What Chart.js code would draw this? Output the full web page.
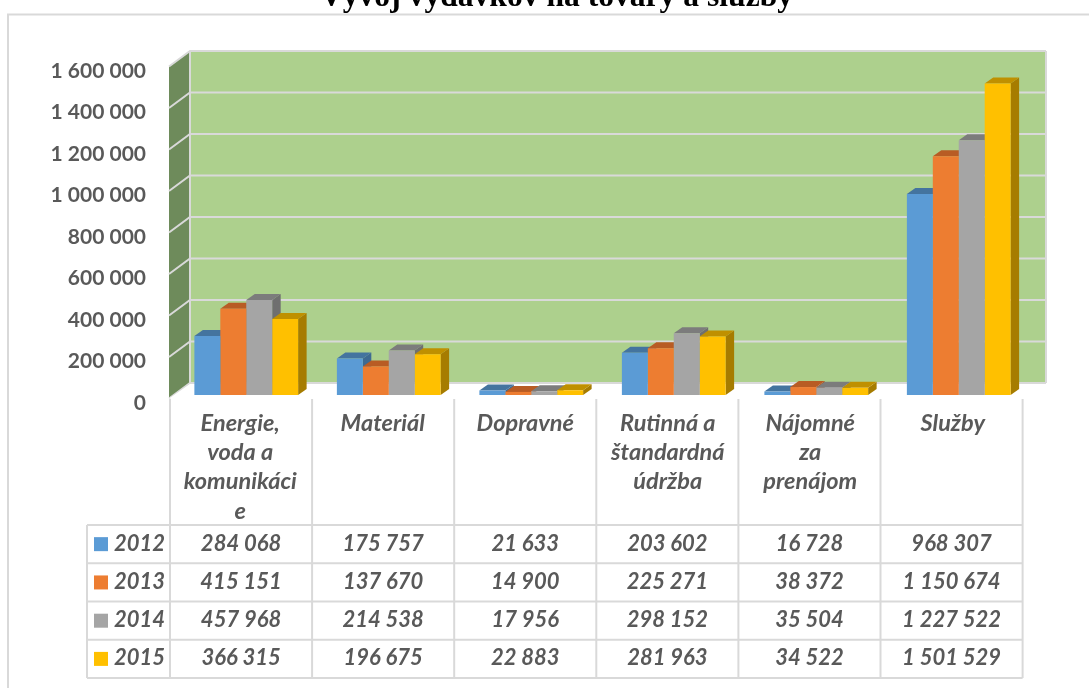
<!DOCTYPE html>
<html lang="sk">
<head>
<meta charset="utf-8">
<title>Vývoj výdavkov na tovary a služby</title>
<style>
html,body{margin:0;padding:0;background:#fff;}
canvas{display:block;filter:blur(0.5px);}
</style>
<script src="https://cdn.jsdelivr.net/npm/chart.js@4"></script>
</head>
<body>
<canvas id="c" width="1089" height="688"></canvas>
<script>
const titleText = 'Vývoj výdavkov na tovary a služby';
const categories = [['Energie,','voda a','komunikáci','e'],['Materiál'],['Dopravné'],['Rutinná a','štandardná','údržba'],['Nájomné','za','prenájom'],['Služby']];
const years = ['2012','2013','2014','2015'];
const values2012 = [284068,175757,21633,203602,16728,968307];
const values2013 = [415151,137670,14900,225271,38372,1150674];
const values2014 = [457968,214538,17956,298152,35504,1227522];
const values2015 = [366315,196675,22883,281963,34522,1501529];
const seriesValues = [values2012,values2013,values2014,values2015];
const fronts = ['#5B9BD5','#ED7D31','#A5A5A5','#FFC000'];
const tops = ['#44749F','#B85C24','#7C7C7C','#BF9000'];
const sides = ['#3E6A92','#A65420','#6F6F6F','#A67C00'];

const fmt = v => String(v).replace(/\B(?=(\d{3})+(?!\d))/g,' ');
const GRID = '#D9D9D9', TEXT = '#595959';
const tickFont = {family:'Lato', size:21, weight:'bold'};
const tableFont = 'italic bold 22px Lato';

const poly = (ctx, pts, fill) => {
  ctx.beginPath();
  pts.forEach((p,i)=> i ? ctx.lineTo(p[0],p[1]) : ctx.moveTo(p[0],p[1]));
  ctx.closePath();
  ctx.fillStyle = fill;
  ctx.fill();
};

const decor = {
  id:'decor',
  afterLayout(chart){
    // the tick labels may extend left of the padded box (labels are clipped to the scale box)
    chart.scales.y.left = 0;
  },
  beforeDatasetsDraw(chart){
    const ctx = chart.ctx, y = chart.scales.y;
    const xF = 169, xB = 190, xR = 1046;
    const front = v => y.getPixelForValue(v) + 3.5;
    const back = v => y.getPixelForValue(v) - 12;
    ctx.save();
    // chart frame hides the lower part of the title
    ctx.fillStyle = '#FFFFFF';
    ctx.fillRect(0,13.5,1089,30);
    ctx.strokeStyle = GRID; ctx.lineWidth = 2;
    ctx.beginPath(); ctx.moveTo(8,688); ctx.lineTo(8,14.5); ctx.lineTo(1089,14.5); ctx.stroke();
    // back wall and side wall
    ctx.fillStyle = '#ADD08D';
    ctx.fillRect(xB, back(1600000), xR-xB, back(0)-back(1600000));
    poly(ctx, [[xF,front(0)],[xF,front(1600000)],[xB,back(1600000)],[xB,back(0)]], '#6E8B5B');
    ctx.strokeStyle = GRID; ctx.lineWidth = 2;
    ctx.beginPath();
    y.ticks.forEach(t=>{
      ctx.moveTo(xF,front(t.value)); ctx.lineTo(xB,back(t.value)); ctx.lineTo(xR,back(t.value));
    });
    ctx.moveTo(xB,back(1600000)); ctx.lineTo(xB,back(0));
    ctx.moveTo(xR,back(1600000)); ctx.lineTo(xR,back(0));
    ctx.stroke();
    // white floor
    poly(ctx, [[xF,front(0)],[xB,back(0)+1],[xR+1,back(0)+1],[1023,front(0)]], '#FFFFFF');
    // 3D sides and tops of the bars
    const dx = 8.5, dy = 6;
    for (let c=0;c<categories.length;c++){
      chart.data.datasets.forEach((ds,i)=>{
        const b = chart.getDatasetMeta(i).data[c];
        const l = b.x-b.width/2, r = b.x+b.width/2, t = b.y, bt = b.base;
        poly(ctx, [[r,bt],[r+dx,bt-dy],[r+dx,t-dy],[r,t]], sides[i]);
        poly(ctx, [[l,t],[l+dx,t-dy],[r+dx,t-dy],[r,t]], tops[i]);
      });
    }
    ctx.restore();
  },
  afterDraw(chart){
    const ctx = chart.ctx;
    const left = 170, col = 142.1, legL = 87;
    const rows = [525,563.3,601.6,639.8,678];
    const n = categories.length, right = left+col*n;
    ctx.save();
    ctx.strokeStyle = GRID; ctx.lineWidth = 2;
    ctx.beginPath();
    for (let i=0;i<=n;i++){ ctx.moveTo(left+col*i,399); ctx.lineTo(left+col*i,678); }
    ctx.moveTo(legL,525); ctx.lineTo(legL,678);
    rows.forEach(r=>{ ctx.moveTo(legL,r); ctx.lineTo(right,r); });
    ctx.stroke();
    ctx.font = tableFont; ctx.fillStyle = TEXT; ctx.textBaseline = 'middle';
    seriesValues.forEach((vals,i)=>{
      const cy = (rows[i]+rows[i+1])/2;
      ctx.fillStyle = fronts[i];
      ctx.fillRect(94,cy-7,14,14);
      ctx.fillStyle = TEXT;
      ctx.textAlign = 'left';
      ctx.fillText(years[i],114,cy-0.5);
      ctx.textAlign = 'center';
      vals.forEach((v,j)=> ctx.fillText(fmt(v), left+col*(j+.5), cy-0.5));
    });
    ctx.restore();
  }
};

new Chart(document.getElementById('c'),{
  type:'bar',
  data:{
    labels:categories,
    datasets:years.map((yr,i)=>({label:yr,data:seriesValues[i],backgroundColor:fronts[i],borderWidth:0}))
  },
  plugins:[decor],
  options:{
    responsive:false,
    animation:false,
    layout:{padding:{right:59,left:83,top:0,bottom:0}},
    datasets:{bar:{categoryPercentage:.728,barPercentage:1}},
    plugins:{
      legend:{display:false},
      tooltip:{enabled:false},
      title:{display:true,text:titleText,color:'#000',align:'center',
        font:{family:'Liberation Serif',size:31.6,weight:'bold',lineHeight:1.2},
        padding:{top:-21,bottom:46.1}}
    },
    scales:{
      x:{
        grid:{display:false},border:{display:false},
        afterFit(s){s.height=293;},
        ticks:{autoSkip:false,maxRotation:0,minRotation:0,padding:5.5,labelOffset:-6,color:TEXT,
          font:{family:'Lato',size:23.5,style:'italic',weight:'bold',lineHeight:1.247}}
      },
      y:{
        min:0,max:1600000,
        grid:{display:false},border:{display:false},
        afterFit(s){s.width=92;},
        ticks:{stepSize:200000,padding:21,labelOffset:8,color:TEXT,font:tickFont,callback:v=>fmt(v)}
      }
    }
  }
});
</script>
</body>
</html>
